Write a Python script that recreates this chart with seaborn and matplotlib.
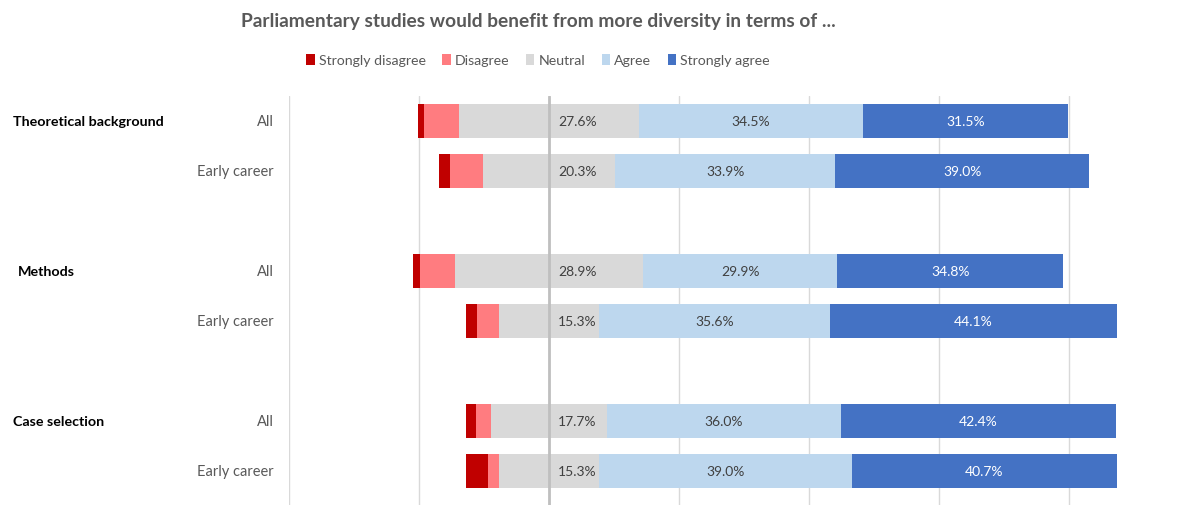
import numpy as np
import pandas as pd
import seaborn as sns
import matplotlib.pyplot as plt
import matplotlib.transforms as mtransforms
from matplotlib.patches import Patch

# ---------------- data ----------------
groups = ["Theoretical background", "Methods", "Case selection"]
subgroups = ["All", "Early career"]
categories = ["Strongly disagree", "Disagree", "Neutral", "Agree", "Strongly agree"]
strongly_disagree = [1.0, 1.7, 1.0, 1.7, 1.5, 3.4]
disagree = [5.4, 5.1, 5.4, 3.4, 2.4, 1.7]
neutral = [27.6, 20.3, 28.9, 15.3, 17.7, 15.3]
agree = [34.5, 33.9, 29.9, 35.6, 36.0, 39.0]
strongly_agree = [31.5, 39.0, 34.8, 44.1, 42.4, 40.7]

colors = ["#C00000", "#FF7C80", "#D9D9D9", "#BDD7EE", "#4472C4"]
row_pos = [0, 1, 3, 4, 6, 7]

sd = np.array(strongly_disagree)
d = np.array(disagree)
n = np.array(neutral)
a = np.array(agree)
sa = np.array(strongly_agree)

sns.set_theme(style="white")
plt.rcParams["font.family"] = ["Lato", "DejaVu Sans"]

fig = plt.figure(figsize=(11.95, 5.06), dpi=100)
ax = fig.add_axes([289 / 1195, 0.0, (1150 - 289) / 1195, 1 - 97 / 506])

# gridlines behind
for gx in [-40, -20, 20, 40, 60, 80]:
    ax.axvline(gx, color="#D9D9D9", lw=1, zorder=0)

# cumulative extents (drawn outer-first so inner segments overlay)
layers = [
    (n / 2 + a + sa, colors[4]),
    (n / 2 + a, colors[3]),
    (n / 2, colors[2]),
    (-(n / 2 + d + sd), colors[0]),
    (-(n / 2 + d), colors[1]),
    (-(n / 2), colors[2]),
]
for vals, col in layers:
    df = pd.DataFrame({"pos": row_pos, "value": vals})
    sns.barplot(data=df, x="value", y="pos", orient="h", native_scale=True,
                color=col, saturation=1, width=0.68, errorbar=None,
                linewidth=0, ax=ax, zorder=2)

# zero axis line on top
ax.axvline(0, color="#BFBFBF", lw=2, zorder=5)

# value labels
for i, p in enumerate(row_pos):
    ax.text(4.4, p, f"{n[i]:.1f}%", ha="center", va="center",
            fontsize=10, color="#404040", zorder=6)
    ax.text(n[i] / 2 + a[i] / 2, p, f"{a[i]:.1f}%", ha="center", va="center",
            fontsize=10, color="#404040", zorder=6)
    ax.text(n[i] / 2 + a[i] + sa[i] / 2, p, f"{sa[i]:.1f}%", ha="center",
            va="center", fontsize=10, color="white", zorder=6)

ax.set_xlim(-40, 92.46)
ax.set_ylim(7.68, -0.5)
ax.set_xticks([])
ax.set_yticks([])
ax.set_xlabel("")
ax.set_ylabel("")
for s in ax.spines.values():
    s.set_visible(False)

# y labels
trans = mtransforms.blended_transform_factory(fig.transFigure, ax.transData)
for gi, g in enumerate(groups):
    for si, sg in enumerate(subgroups):
        p = row_pos[gi * 2 + si]
        fig.text(274 / 1195, p, sg, transform=trans, ha="right", va="center",
                 fontsize=10.5, color="#595959")
    gx = 18 if g == "Methods" else 13
    fig.text(gx / 1195, row_pos[gi * 2], g, transform=trans, ha="left",
             va="center", fontsize=10.3, fontweight="bold", color="black")

# title
fig.text(538 / 1195, 1 - 21 / 506, "Parliamentary studies would benefit from more diversity in terms of ...",
         ha="center", va="center", fontsize=13.8, fontweight="bold", color="#595959")

# legend
handles = [Patch(facecolor=c, edgecolor="none", label=l) for c, l in zip(colors, categories)]
leg = fig.legend(handles=handles, loc="center", bbox_to_anchor=(538 / 1195, 1 - 61 / 506),
                 ncol=5, frameon=False, fontsize=10.2, handlelength=0.6, handleheight=0.9,
                 handletextpad=0.3, columnspacing=1.15)
for t in leg.get_texts():
    t.set_color("#595959")

fig.savefig("out.png", dpi=100)
